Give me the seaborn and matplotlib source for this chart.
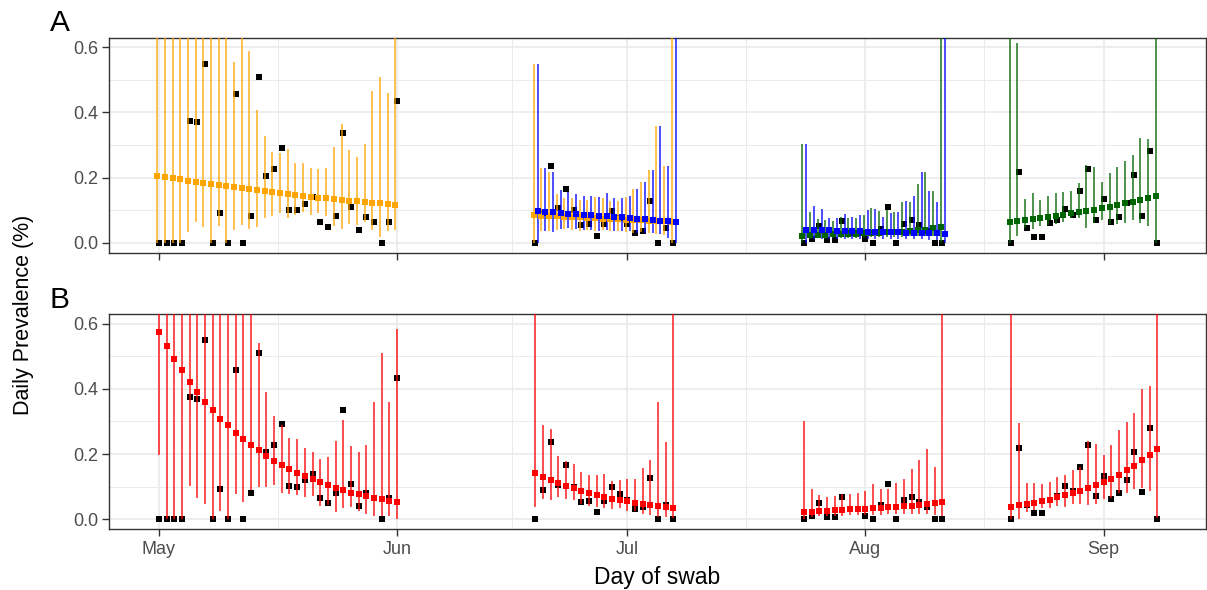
import numpy as np
import pandas as pd
import matplotlib
matplotlib.use("Agg")
import matplotlib.pyplot as plt
import matplotlib.dates as mdates
from matplotlib.ticker import FixedLocator
import seaborn as sns

# ---------------- data ----------------
# four sampling windows (consecutive swab days)
dates_may = pd.date_range("2020-05-01", "2020-06-01", freq="D")
dates_jun = pd.date_range("2020-06-19", "2020-07-07", freq="D")
dates_jul = pd.date_range("2020-07-24", "2020-08-11", freq="D")
dates_aug = pd.date_range("2020-08-20", "2020-09-08", freq="D")

# observed daily prevalence (black squares)
obs_may = [0, 0, 0, 0, 0.375, 0.37, 0.55, 0, 0.092, 0, 0.458, 0, 0.082, 0.51, 0.206, 0.227,
           0.292, 0.101, 0.10, 0.119, 0.14, 0.064, 0.049, 0.082, 0.336, 0.109, 0.04, 0.079,
           0.064, 0, 0.064, 0.435]
obs_jun = [0, 0.09, 0.236, 0.106, 0.165, 0.1, 0.053, 0.057, 0.022, 0.057, 0.098, 0.076,
           0.058, 0.03, 0.036, 0.127, 0, 0.044, 0]
obs_jul = [0, 0.01, 0.05, 0.007, 0.007, 0.068, 0.03, 0.03, 0.01, 0, 0.043, 0.109, 0,
           0.058, 0.069, 0.053, 0.036, 0, 0]
obs_aug = [0, 0.218, 0.044, 0.019, 0.019, 0.06, 0.07, 0.103, 0.086, 0.16, 0.227, 0.071,
           0.133, 0.063, 0.08, 0.121, 0.207, 0.083, 0.281, 0]

# ---- panel A: orange model ----
orange_may = [0.205, 0.202, 0.198, 0.195, 0.19, 0.187, 0.184, 0.181, 0.178, 0.175, 0.171,
              0.168, 0.165, 0.162, 0.159, 0.156, 0.153, 0.149, 0.146, 0.144, 0.141, 0.138,
              0.136, 0.134, 0.131, 0.129, 0.127, 0.125, 0.123, 0.121, 0.119, 0.117]
orange_may_lo = [0, 0, 0, 0, 0.033, 0.063, 0.048, 0, 0.05, 0, 0.04, 0.053, 0.043, 0.048,
                 0.076, 0.081, 0.091, 0.077, 0.086, 0.093, 0.086, 0.091, 0.081, 0.05, 0.043,
                 0.058, 0.055, 0.065, 0.04, 0.017, 0.035, 0.04]
orange_may_hi = [1, 1, 1, 1, 1, 1, 1, 1, 1, 1, 0.554, 1, 0.588, 0.407, 0.327, 0.278, 0.275,
                 0.287, 0.244, 0.244, 0.229, 0.226, 0.229, 0.295, 0.366, 0.285, 0.262, 0.303,
                 0.465, 0.509, 0.461, 1]
orange_jun = [0.084, 0.083, 0.082, 0.081, 0.08, 0.079, 0.078, 0.077, 0.076, 0.074, 0.073,
              0.072, 0.071, 0.07, 0.069, 0.068, 0.067, 0.066, 0.064]
orange_jun_lo = [0, 0.035, 0.035, 0.04, 0.042, 0.04, 0.037, 0.04, 0.037, 0.04, 0.035, 0.035,
                 0.032, 0.03, 0.032, 0.03, 0.028, 0.025, 0]
orange_jun_hi = [0.55, 0.229, 0.218, 0.15, 0.137, 0.137, 0.13, 0.13, 0.139, 0.137, 0.127,
                 0.129, 0.139, 0.166, 0.186, 0.224, 0.359, 0.236, 1]

# ---- panel A: blue model ----
blue_jun = [0.096, 0.094, 0.093, 0.091, 0.089, 0.088, 0.086, 0.084, 0.083, 0.081, 0.079,
            0.078, 0.076, 0.074, 0.072, 0.070, 0.068, 0.066, 0.064]
blue_jun_lo = [0, 0.035, 0.032, 0.042, 0.045, 0.042, 0.04, 0.04, 0.037, 0.04, 0.037, 0.035,
               0.035, 0.03, 0.03, 0.03, 0.028, 0.015, 0]
blue_jun_hi = [0.55, 0.229, 0.218, 0.162, 0.157, 0.15, 0.145, 0.142, 0.139, 0.152, 0.137,
               0.137, 0.142, 0.166, 0.186, 0.224, 0.359, 0.236, 1]
blue_jul = [0.040, 0.039, 0.038, 0.038, 0.037, 0.036, 0.036, 0.035, 0.034, 0.034, 0.033,
            0.033, 0.032, 0.031, 0.031, 0.030, 0.029, 0.029, 0.028]
blue_jul_lo = [0, 0.01, 0.012, 0.012, 0.012, 0.012, 0.012, 0.012, 0.012, 0.012, 0.012,
               0.011, 0.011, 0.01, 0.01, 0.01, 0.008, 0.008, 0]
blue_jul_hi = [0.302, 0.113, 0.104, 0.077, 0.075, 0.088, 0.08, 0.085, 0.1, 0.104, 0.08,
               0.09, 0.095, 0.128, 0.142, 0.216, 0.16, 0.124, 1]

# ---- panel A: green model ----
green_jul = [0.022, 0.023, 0.024, 0.025, 0.026, 0.027, 0.028, 0.028, 0.029, 0.03, 0.031,
             0.032, 0.033, 0.034, 0.036, 0.038, 0.04, 0.044, 0.047]
green_jul_lo = [0, 0.012, 0.014, 0.012, 0.014, 0.015, 0.015, 0.016, 0.016, 0.017, 0.018,
                0.018, 0.018, 0.019, 0.02, 0.02, 0.02, 0.02, 0]
green_jul_hi = [0.302, 0.093, 0.072, 0.07, 0.068, 0.08, 0.077, 0.077, 0.086, 0.106, 0.096,
                0.101, 0.093, 0.124, 0.126, 0.18, 0.216, 0.16, 1]
green_aug = [0.065, 0.068, 0.07, 0.073, 0.075, 0.078, 0.082, 0.085, 0.09, 0.093, 0.097, 0.1,
             0.106, 0.111, 0.116, 0.121, 0.126, 0.131, 0.136, 0.142]
green_aug_lo = [0, 0.02, 0.045, 0.042, 0.05, 0.055, 0.058, 0.065, 0.075, 0.075, 0.045, 0.062,
                0.07, 0.057, 0.057, 0.062, 0.07, 0.06, 0.05, 0]
green_aug_hi = [1, 0.613, 0.134, 0.152, 0.131, 0.144, 0.152, 0.157, 0.16, 0.183, 0.239,
                0.232, 0.185, 0.213, 0.232, 0.251, 0.269, 0.322, 0.318, 1]

# ---- panel B: red model ----
red_may = [0.575, 0.532, 0.493, 0.457, 0.422, 0.392, 0.361, 0.336, 0.309, 0.288, 0.265,
           0.245, 0.227, 0.211, 0.195, 0.18, 0.167, 0.155, 0.143, 0.132, 0.123, 0.114, 0.105,
           0.097, 0.089, 0.082, 0.076, 0.071, 0.066, 0.061, 0.057, 0.052]
red_may_lo = [0.196, 0, 0, 0, 0.102, 0.064, 0.048, 0, 0.025, 0, 0.076, 0.054, 0.09, 0.099,
              0.1, 0.104, 0.079, 0.078, 0.074, 0.069, 0.072, 0.041, 0.044, 0.023, 0.034,
              0.038, 0.025, 0.017, 0.01, 0.01, 0.01, 0]
red_may_hi = [1, 1, 1, 1, 1, 1, 1, 1, 1, 1, 1, 1, 1, 0.542, 0.39, 0.317, 0.288, 0.25, 0.245,
              0.219, 0.206, 0.186, 0.19, 0.239, 0.305, 0.224, 0.206, 0.229, 0.361, 0.51,
              0.359, 0.585]
red_jun = [0.142, 0.13, 0.12, 0.11, 0.103, 0.096, 0.087, 0.08, 0.074, 0.068, 0.063, 0.059,
           0.056, 0.05, 0.046, 0.043, 0.04, 0.038, 0.034]
red_jun_lo = [0.038, 0.061, 0.058, 0.068, 0.061, 0.058, 0.046, 0.041, 0.038, 0.034, 0.031,
              0.034, 0.026, 0.024, 0.017, 0.013, 0.008, 0.008, 0.005]
red_jun_hi = [1, 0.288, 0.278, 0.193, 0.18, 0.168, 0.144, 0.137, 0.137, 0.139, 0.117, 0.119,
              0.125, 0.125, 0.158, 0.183, 0.359, 0.236, 1]
red_jul = [0.023, 0.023, 0.025, 0.025, 0.027, 0.028, 0.03, 0.031, 0.032, 0.034, 0.035,
           0.037, 0.038, 0.04, 0.042, 0.044, 0.046, 0.049, 0.052]
red_jul_lo = [0, 0.008, 0.01, 0.01, 0.01, 0.011, 0.012, 0.012, 0.013, 0.013, 0.014, 0.015,
              0.015, 0.015, 0.016, 0.016, 0.015, 0.012, 0.01]
red_jul_hi = [0.302, 0.094, 0.074, 0.068, 0.071, 0.076, 0.078, 0.079, 0.086, 0.107, 0.094,
              0.092, 0.110, 0.125, 0.155, 0.181, 0.217, 0.161, 1]
red_aug = [0.039, 0.043, 0.046, 0.05, 0.056, 0.06, 0.068, 0.074, 0.08, 0.088, 0.097, 0.106,
           0.114, 0.125, 0.137, 0.15, 0.164, 0.181, 0.197, 0.216]
red_aug_lo = [0, 0, 0.023, 0.028, 0.034, 0.034, 0.04, 0.039, 0.046, 0.048, 0.043, 0.048,
              0.063, 0.066, 0.079, 0.081, 0.092, 0.097, 0.087, 0.005]
red_aug_hi = [1, 0.295, 0.11, 0.112, 0.107, 0.115, 0.13, 0.135, 0.15, 0.16, 0.241, 0.231,
              0.196, 0.228, 0.275, 0.298, 0.325, 0.399, 0.409, 1]

month_ticks = ["2020-05-01", "2020-06-01", "2020-07-01", "2020-08-01", "2020-09-01"]
month_labels = ["May", "Jun", "Jul", "Aug", "Sep"]
y_ticks = [0.0, 0.2, 0.4, 0.6]
y_labels = ["0.0", "0.2", "0.4", "0.6"]

# ---------------- style ----------------
sns.set_theme(style="white")
plt.rcParams["font.family"] = ["Liberation Sans", "DejaVu Sans"]

ORANGE, BLUE, GREEN, RED = "#FFA500", "#0000FF", "#006400", "#FF0000"
GRID = "#EBEBEB"
FRAME = "#333333"
TICKTXT = "#4D4D4D"

fig = plt.figure(figsize=(12.07, 5.90), dpi=100)
axA = fig.add_axes([0.0903, 0.572, 0.9089, 0.3644])
axB = fig.add_axes([0.0903, 0.1034, 0.9089, 0.3644])


def observed(ax, dates, vals):
    df = pd.DataFrame({"date": dates, "prev": vals})
    sns.scatterplot(data=df, x="date", y="prev", marker="s", color="black", s=15,
                    linewidth=0, ax=ax, zorder=2, legend=False)


def model(ax, dates, fit, lo, hi, color, shift_days):
    x = dates + pd.to_timedelta(shift_days, unit="D")
    df = pd.DataFrame({"date": x, "fit": fit, "lo": lo, "hi": hi})
    ax.vlines(mdates.date2num(df["date"]), df["lo"], df["hi"], colors=color,
              linewidth=1.15, alpha=0.85, zorder=3)
    sns.scatterplot(data=df, x="date", y="fit", marker="s", color=color, s=16,
                    linewidth=0, ax=ax, zorder=4, legend=False)


for ax in (axA, axB):
    observed(ax, dates_may, obs_may)
    observed(ax, dates_jun, obs_jun)
    observed(ax, dates_jul, obs_jul)
    observed(ax, dates_aug, obs_aug)

# panel A
model(axA, dates_may, orange_may, orange_may_lo, orange_may_hi, ORANGE, -0.22)
model(axA, dates_jun, orange_jun, orange_jun_lo, orange_jun_hi, ORANGE, -0.22)
model(axA, dates_jun, blue_jun, blue_jun_lo, blue_jun_hi, BLUE, 0.3)
model(axA, dates_jul, green_jul, green_jul_lo, green_jul_hi, GREEN, -0.22)
model(axA, dates_jul, blue_jul, blue_jul_lo, blue_jul_hi, BLUE, 0.3)
model(axA, dates_aug, green_aug, green_aug_lo, green_aug_hi, GREEN, -0.22)

# panel B
model(axB, dates_may, red_may, red_may_lo, red_may_hi, RED, 0.0)
model(axB, dates_jun, red_jun, red_jun_lo, red_jun_hi, RED, 0.0)
model(axB, dates_jul, red_jul, red_jul_lo, red_jul_hi, RED, 0.0)
model(axB, dates_aug, red_aug, red_aug_lo, red_aug_hi, RED, 0.0)

major_x = mdates.date2num(pd.to_datetime(month_ticks))
minor_x = (major_x[:-1] + major_x[1:]) / 2.0
x_left = major_x[0] - 6.5
x_right = major_x[-1] + 13.35

for ax in (axA, axB):
    ax.set_xlim(x_left, x_right)
    ax.set_ylim(-0.03, 0.63)
    ax.set_facecolor("white")
    ax.xaxis.set_major_locator(FixedLocator(major_x))
    ax.xaxis.set_minor_locator(FixedLocator(minor_x))
    ax.set_yticks(y_ticks)
    ax.set_yticklabels(y_labels)
    ax.yaxis.set_minor_locator(FixedLocator([0.1, 0.3, 0.5]))
    ax.grid(which="major", color=GRID, linewidth=1.25, zorder=0)
    ax.grid(which="minor", color=GRID, linewidth=0.7, zorder=0)
    ax.set_axisbelow(True)
    for sp in ax.spines.values():
        sp.set_color(FRAME)
        sp.set_linewidth(1.0)
        sp.set_visible(True)
    ax.tick_params(which="major", direction="out", length=5, width=1.0, color=FRAME,
                   labelsize=13, labelcolor=TICKTXT, pad=3)
    ax.tick_params(which="minor", length=0)
    ax.tick_params(axis="x", which="major", bottom=True, pad=4)
    ax.tick_params(axis="y", which="major", left=True)
    ax.set_xlabel("")
    ax.set_ylabel("")

axA.set_xticklabels([])
axB.set_xticklabels(month_labels)

fig.text(0.0497, 0.961, "A", fontsize=21.5, ha="center", va="center", color="black")
fig.text(0.0497, 0.492, "B", fontsize=21.5, ha="center", va="center", color="black")
fig.text(0.0195, 0.466, "Daily Prevalence (%)", rotation=90, fontsize=15.5,
         ha="center", va="center", color="black")
fig.text(0.5447, 0.022, "Day of swab", fontsize=16.5, ha="center", va="center",
         color="black")

fig.savefig("out.png", dpi=100, facecolor="white")
